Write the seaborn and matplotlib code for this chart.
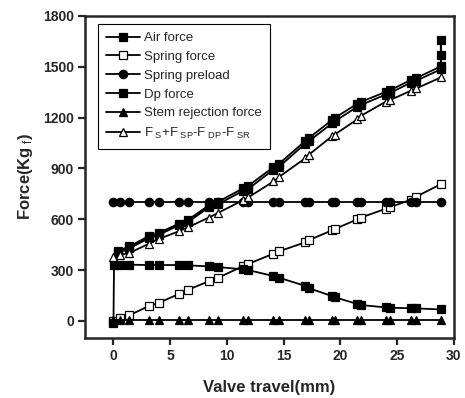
import matplotlib
matplotlib.use("Agg")
import matplotlib.pyplot as plt
import seaborn as sns
import pandas as pd

# ---- data ----
travel = [0.0, 0.6, 1.4, 3.1, 4.0, 5.8, 6.6, 8.4, 9.2, 11.4, 11.9, 14.1, 14.6,
          16.9, 17.2, 19.3, 19.5, 21.5, 21.8, 24.0, 24.4, 26.2, 26.7, 28.85]

air_x = [0.4, 1.4, 3.1, 4.0, 5.8, 6.6, 8.4, 9.2, 11.4, 11.9, 14.1, 14.6, 16.9, 17.2,
         19.3, 19.5, 21.5, 21.8, 24.0, 24.4, 26.2, 26.7, 28.85, 28.85, 28.9, 28.85,
         26.7, 26.2, 24.4, 24.0, 21.8, 21.5, 19.5, 19.3, 17.2, 16.9, 14.6, 14.1,
         11.9, 11.4, 9.2, 8.4, 6.6, 5.8, 4.0, 3.1, 1.4, 0.4]
air_force = [412, 440, 500, 520, 575, 598, 682, 702, 782, 798, 908, 928, 1062, 1078,
             1188, 1198, 1282, 1292, 1352, 1362, 1422, 1434, 1502, 1660, 1572, 1485,
             1418, 1406, 1346, 1336, 1274, 1264, 1178, 1168, 1060, 1046, 910, 893,
             780, 767, 688, 670, 585, 566, 508, 488, 428, 400]

spring_force = [0, 19, 34, 87, 107, 160, 185, 234, 254, 323, 337, 397, 411,
                464, 476, 536, 542, 600, 610, 662, 672, 715, 734, 807]

spring_preload = [700] * len(travel)

dp_x = [0.0, 0.05, 0.6, 1.4, 3.1, 4.0, 5.8, 6.6, 8.4, 9.2, 11.4, 11.9, 14.1, 14.6,
        16.9, 17.2, 19.3, 19.5, 21.5, 21.8, 24.0, 24.4, 26.2, 26.7, 28.85]
dp_force = [-10, 332, 333, 332, 330, 330, 330, 328, 322, 318, 305, 300, 265, 255,
            207, 194, 146, 140, 100, 94, 80, 78, 75, 74, 68]

stem_force = [5] * len(travel)

sum_force = [380, 390, 401, 455, 484, 530, 554, 610, 637, 712, 730, 823, 850,
             960, 980, 1092, 1100, 1190, 1210, 1294, 1304, 1358, 1372, 1437]

x_ticks = [0, 5, 10, 15, 20, 25, 30]
y_ticks = [0, 300, 600, 900, 1200, 1500, 1800]

# ---- style ----
sns.set_style("ticks")
plt.rcParams["font.family"] = ["Liberation Sans", "DejaVu Sans"]
plt.rcParams["mathtext.fontset"] = "custom"
plt.rcParams["mathtext.rm"] = "Liberation Sans"
plt.rcParams["mathtext.it"] = "Liberation Sans"

fig = plt.figure(figsize=(4.65, 3.98), dpi=100)
ax = fig.add_axes([0.183, 0.151, 0.793, 0.809])

common = dict(color="black", linewidth=1.3, sort=False, estimator=None,
              markersize=6, markeredgecolor="black", markeredgewidth=0.9, ax=ax)

sns.lineplot(x=air_x, y=air_force, marker="s", label="Air force", **common)
sns.lineplot(x=travel, y=spring_force, marker="s", markerfacecolor="white",
             label="Spring force", **common)
sns.lineplot(x=travel, y=spring_preload, marker="o", label="Spring preload", **common)
sns.lineplot(x=dp_x, y=dp_force, marker="s", label="Dp force", **common)
sns.lineplot(x=travel, y=stem_force, marker="^", label="Stem rejection force", **common)
sns.lineplot(x=travel, y=sum_force, marker="^", markerfacecolor="white",
             label=r"F$_{\ S}$+F$_{\ SP}$-F$_{\ DP}$-F$_{\ SR}$", **common)

ax.set_xlim(-2.5, 30)
ax.set_ylim(-100, 1800)
ax.set_xticks(x_ticks)
ax.set_yticks(y_ticks)
ax.set_xticklabels([str(v) for v in x_ticks], fontweight="bold", fontsize=10)
ax.set_yticklabels([str(v) for v in y_ticks], fontweight="bold", fontsize=10)
ax.tick_params(direction="out", length=5, width=1.6, pad=3)
for s in ax.spines.values():
    s.set_linewidth(1.8)
    s.set_visible(True)

ax.set_xlabel("Valve travel(mm)", fontweight="bold", fontsize=12, labelpad=12)
ax.set_ylabel(r"Force(Kg$_{\ f}$)", fontweight="bold", fontsize=12, labelpad=6)

leg = ax.legend(loc="upper left", bbox_to_anchor=(0.035, 0.975), frameon=True,
                fancybox=False, shadow=False, fontsize=9.5, handlelength=2.6,
                handletextpad=0.3, labelspacing=0.5, borderpad=0.6,
                borderaxespad=0.0)
leg.get_frame().set_edgecolor("black")
leg.get_frame().set_linewidth(0.8)
leg.get_frame().set_alpha(1)

fig.savefig("out.png", dpi=100)
